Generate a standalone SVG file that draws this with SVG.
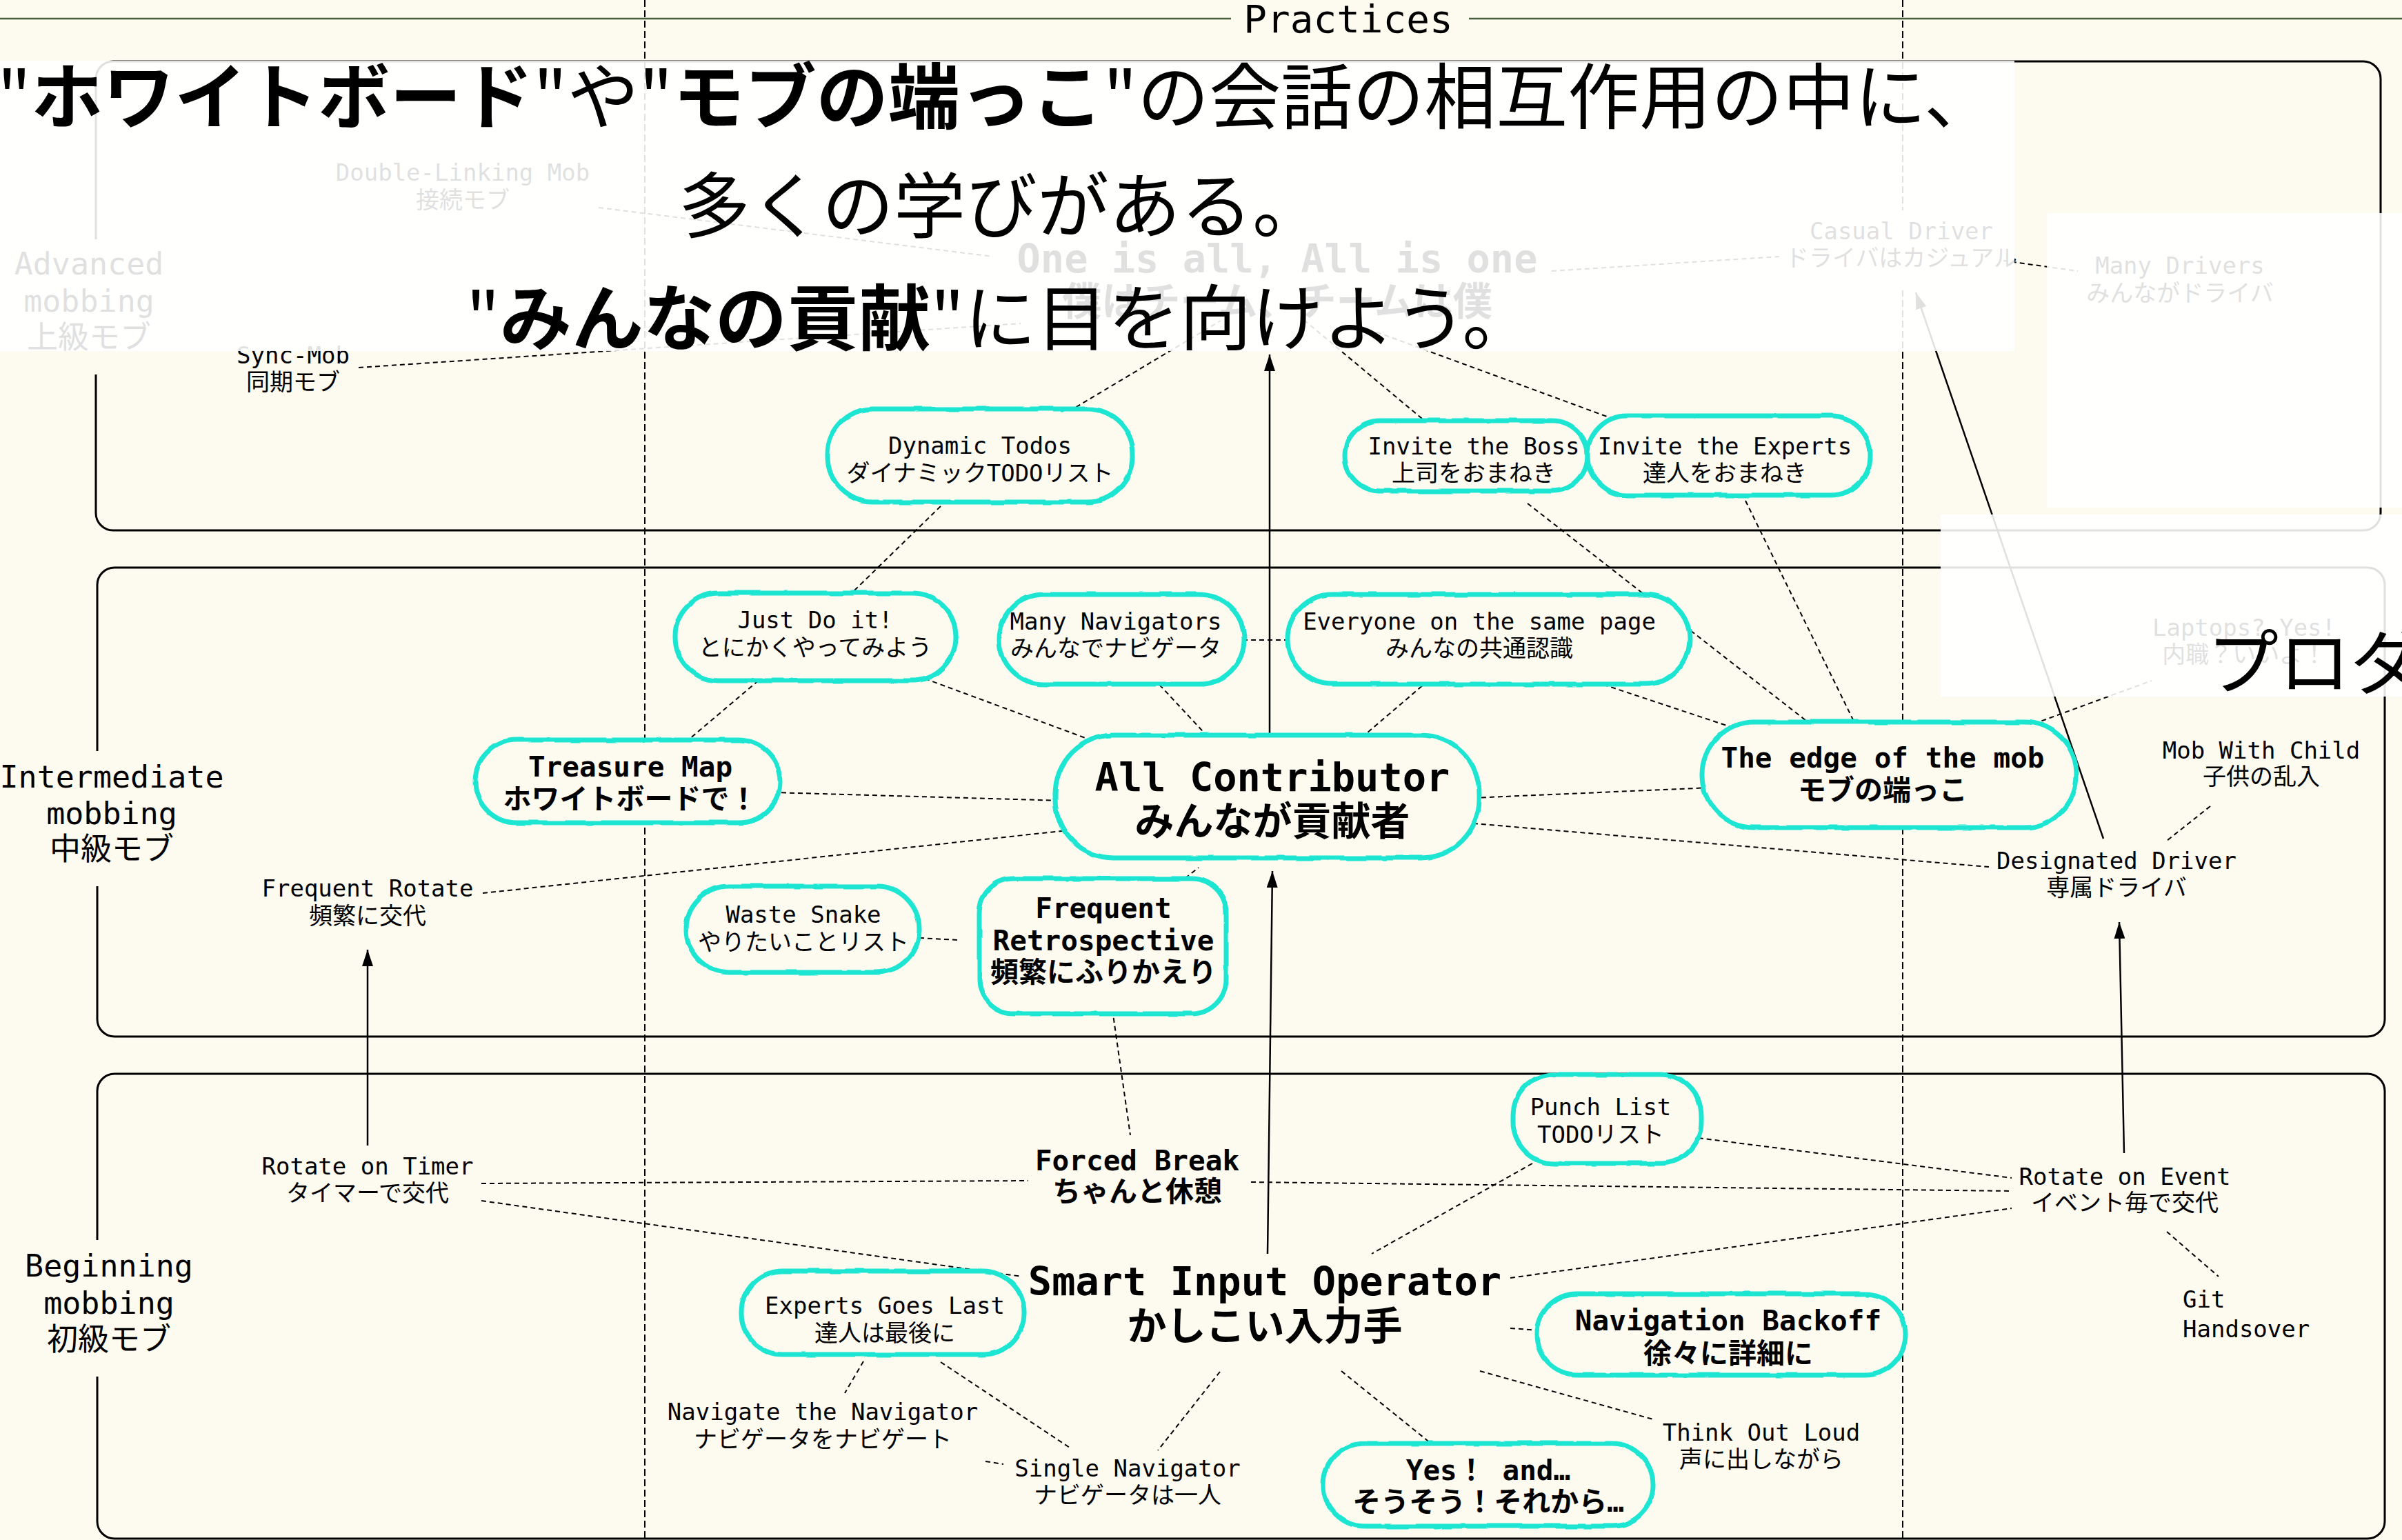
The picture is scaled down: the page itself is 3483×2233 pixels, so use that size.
<svg xmlns="http://www.w3.org/2000/svg" width="3483" height="2233" viewBox="0 0 3483 2233">
<style>
.t{font-family:"DejaVu Sans Mono","Noto Sans CJK JP",monospace;font-size:34px;text-anchor:middle;fill:#000}
.b{font-weight:bold;font-size:41px}
.bb{font-weight:bold;font-size:57px}
.lab{font-size:45px}
.node{fill:#fdfbf0;stroke:#1de6d2;stroke-width:7;filter:url(#wob)}
.lane{fill:none;stroke:#000;stroke-width:3}
.c{stroke:#000;stroke-width:2;stroke-dasharray:7 5;fill:none}
.a{stroke:#000;stroke-width:2.5;fill:none;marker-end:url(#arr)}
.vd{stroke:#000;stroke-width:2;stroke-dasharray:10 5}
.ov{fill:#fff;fill-opacity:0.88}
.big{font-family:"Noto Sans CJK JP","Noto Sans CJK SC",sans-serif;font-size:104px;fill:#000;text-anchor:middle}
</style>
<defs>
<marker id="arr" markerWidth="24" markerHeight="16" refX="24" refY="8" orient="auto" markerUnits="userSpaceOnUse"><path d="M0,0 L24,8 L0,16 z" fill="#000"/></marker>
<filter id="wob" x="-5%" y="-10%" width="110%" height="120%"><feTurbulence type="fractalNoise" baseFrequency="0.03" numOctaves="2" seed="3"/><feDisplacementMap in="SourceGraphic" scale="4" xChannelSelector="R" yChannelSelector="G"/></filter>
</defs>
<rect width="3483" height="2233" fill="#fdfbf0"/>

<g id="title">
<line x1="0" y1="27" x2="1785" y2="27" stroke="#4a5d3a" stroke-width="2.5"/>
<line x1="2130" y1="27" x2="3483" y2="27" stroke="#4a5d3a" stroke-width="2.5"/>
<text class="t" x="1955" y="47" style="font-size:56px">Practices</text>
</g>

<g id="lanes">
<rect class="lane" x="139" y="89" width="3313" height="680" rx="25"/>
<rect class="lane" x="141" y="823" width="3317" height="680" rx="25"/>
<rect class="lane" x="141" y="1557" width="3317" height="674" rx="25"/>
<rect x="120" y="347" width="40" height="196" fill="#fdfbf0"/>
<rect x="120" y="1089" width="40" height="196" fill="#fdfbf0"/>
<rect x="120" y="1798" width="40" height="198" fill="#fdfbf0"/>
<text class="t lab" x="129"><tspan x="129" y="398">Advanced</tspan><tspan x="129" y="452">mobbing</tspan><tspan x="129" y="505">上級モブ</tspan></text>
<text class="t lab" x="162"><tspan x="162" y="1142">Intermediate</tspan><tspan x="162" y="1195">mobbing</tspan><tspan x="162" y="1247">中級モブ</tspan></text>
<text class="t lab" x="158"><tspan x="158" y="1851">Beginning</tspan><tspan x="158" y="1905">mobbing</tspan><tspan x="158" y="1958">初級モブ</tspan></text>
</g>

<g id="columns">
<line class="vd" x1="935" y1="0" x2="935" y2="2233"/>
<line class="vd" x1="2759" y1="0" x2="2759" y2="2233"/>
</g>

<g id="connectors">
<line class="c" x1="868" y1="301" x2="1440" y2="372"/>
<line class="c" x1="520" y1="533" x2="1480" y2="469"/>
<line class="c" x1="2250" y1="393" x2="2580" y2="372"/>
<line class="c" x1="2905" y1="378" x2="3013" y2="393"/>
<line class="c" x1="1519" y1="615" x2="1770" y2="465"/>
<line class="c" x1="2062" y1="607" x2="1892" y2="465"/>
<line class="c" x1="2352" y1="612" x2="1992" y2="480"/>
<line class="c" x1="1364" y1="734" x2="1237" y2="858"/>
<line class="c" x1="2215" y1="730" x2="2646" y2="1066"/>
<line class="c" x1="2531" y1="726" x2="2698" y2="1066"/>
<line class="c" x1="2302" y1="985" x2="2546" y2="1066"/>
<line class="c" x1="2904" y1="1066" x2="3120" y2="987"/>
<line class="c" x1="1109" y1="979" x2="998" y2="1073"/>
<line class="c" x1="1341" y1="984" x2="1617" y2="1086"/>
<line class="c" x1="1673" y1="984" x2="1768" y2="1086"/>
<line class="c" x1="1790" y1="928" x2="1876" y2="928"/>
<line class="c" x1="2071" y1="987" x2="1955" y2="1086"/>
<line class="c" x1="1121" y1="1149" x2="1577" y2="1162"/>
<line class="c" x1="700" y1="1295" x2="1577" y2="1201"/>
<line class="c" x1="2112" y1="1158" x2="2481" y2="1142"/>
<line class="c" x1="2112" y1="1192" x2="2884" y2="1257"/>
<line class="c" x1="1333" y1="1360" x2="1390" y2="1363"/>
<line class="c" x1="1709" y1="1281" x2="1738" y2="1258"/>
<line class="c" x1="1613" y1="1464" x2="1639" y2="1646"/>
<line class="c" x1="3205" y1="1169" x2="3142" y2="1219"/>
<line class="c" x1="698" y1="1716" x2="1491" y2="1712"/>
<line class="c" x1="1814" y1="1714" x2="2917" y2="1727"/>
<line class="c" x1="698" y1="1741" x2="1482" y2="1851"/>
<line class="c" x1="2439" y1="1647" x2="2917" y2="1708"/>
<line class="c" x1="2222" y1="1687" x2="1989" y2="1818"/>
<line class="c" x1="2190" y1="1853" x2="2917" y2="1752"/>
<line class="c" x1="3142" y1="1786" x2="3217" y2="1851"/>
<line class="c" x1="2190" y1="1926" x2="2276" y2="1932"/>
<line class="c" x1="2146" y1="1988" x2="2397" y2="2058"/>
<line class="c" x1="1945" y1="1988" x2="2075" y2="2093"/>
<line class="c" x1="1769" y1="1989" x2="1679" y2="2103"/>
<line class="c" x1="1252" y1="1974" x2="1225" y2="2020"/>
<line class="c" x1="1364" y1="1975" x2="1554" y2="2101"/>
<line class="c" x1="1429" y1="2119" x2="1455" y2="2123"/>
<line class="a" x1="533" y1="1661" x2="533" y2="1377"/>
<line class="a" x1="1838" y1="1818" x2="1845" y2="1263"/>
<line class="a" x1="1841" y1="1066" x2="1841" y2="514"/>
<line class="a" x1="3080" y1="1672" x2="3073" y2="1337"/>
<line class="a" x1="3050" y1="1216" x2="2778" y2="424"/>
</g>

<g id="n-doublelink"><text class="t"><tspan x="671" y="262">Double-Linking Mob</tspan><tspan x="671" y="302">接続モブ</tspan></text></g>
<g id="n-oneisall"><text class="t bb"><tspan x="1852" y="395">One is all, All is one</tspan><tspan x="1852" y="457">僕はチーム、チームは僕</tspan></text></g>
<g id="n-syncmob"><text class="t"><tspan x="425" y="527">Sync-Mob</tspan><tspan x="425" y="566">同期モブ</tspan></text></g>
<g id="n-casual"><rect x="2610" y="305" width="295" height="116" fill="#fdfbf0"/><text class="t"><tspan x="2757" y="347">Casual Driver</tspan><tspan x="2757" y="386">ドライバはカジュアル</tspan></text></g>
<g id="n-manydrivers"><text class="t"><tspan x="3161" y="397">Many Drivers</tspan><tspan x="3161" y="437">みんながドライバ</tspan></text></g>
<g id="n-dyn"><rect class="node" x="1200" y="593" width="443" height="135" rx="66"/><text class="t"><tspan x="1421" y="658">Dynamic Todos</tspan><tspan x="1421" y="698">ダイナミックTODOリスト</tspan></text></g>
<g id="n-boss"><rect class="node" x="1950" y="610" width="352" height="102" rx="51"/><text class="t"><tspan x="2137" y="659">Invite the Boss</tspan><tspan x="2137" y="698">上司をおまねき</tspan></text></g>
<g id="n-experts"><rect class="node" x="2302" y="603" width="410" height="115" rx="57"/><text class="t"><tspan x="2501" y="659">Invite the Experts</tspan><tspan x="2501" y="698">達人をおまねき</tspan></text></g>

<g id="n-justdo"><rect class="node" x="979" y="860" width="407" height="127" rx="63"/><text class="t"><tspan x="1182" y="911">Just Do it!</tspan><tspan x="1182" y="951">とにかくやってみよう</tspan></text></g>
<g id="n-manynav"><rect class="node" x="1449" y="862" width="355" height="130" rx="65"/><text class="t"><tspan x="1618" y="913">Many Navigators</tspan><tspan x="1618" y="952">みんなでナビゲータ</tspan></text></g>
<g id="n-everyone"><rect class="node" x="1867" y="862" width="583" height="130" rx="65"/><text class="t"><tspan x="2145" y="913">Everyone on the same page</tspan><tspan x="2145" y="952">みんなの共通認識</tspan></text></g>
<g id="n-treasure"><rect class="node" x="689" y="1073" width="442" height="120" rx="60"/><text class="t b"><tspan x="914" y="1126">Treasure Map</tspan><tspan x="914" y="1173">ホワイトボードで！</tspan></text></g>
<g id="n-allc"><rect class="node" x="1530" y="1066" width="615" height="178" rx="85"/><text class="t bb"><tspan x="1845" y="1147">All Contributor</tspan><tspan x="1845" y="1211">みんなが貢献者</tspan></text></g>
<g id="n-edge"><rect class="node" x="2468" y="1047" width="543" height="153" rx="76"/><text class="t b"><tspan x="2730" y="1113">The edge of the mob</tspan><tspan x="2730" y="1160">モブの端っこ</tspan></text></g>
<g id="n-laptops"><text class="t"><tspan x="3254" y="922">Laptops? Yes!</tspan><tspan x="3254" y="961">内職？いいよ！</tspan></text></g>
<g id="n-mobchild"><text class="t"><tspan x="3279" y="1100">Mob With Child</tspan><tspan x="3279" y="1138">子供の乱入</tspan></text></g>
<g id="n-designated"><text class="t"><tspan x="3069" y="1260">Designated Driver</tspan><tspan x="3069" y="1299">専属ドライバ</tspan></text></g>
<g id="n-freqrotate"><text class="t"><tspan x="533" y="1300">Frequent Rotate</tspan><tspan x="533" y="1340">頻繁に交代</tspan></text></g>
<g id="n-waste"><rect class="node" x="995" y="1285" width="338" height="125" rx="62"/><text class="t"><tspan x="1165" y="1338">Waste Snake</tspan><tspan x="1165" y="1378">やりたいことリスト</tspan></text></g>
<g id="n-retro"><rect class="node" x="1420" y="1274" width="358" height="196" rx="50"/><text class="t b"><tspan x="1600" y="1331">Frequent</tspan><tspan x="1600" y="1378">Retrospective</tspan><tspan x="1600" y="1424">頻繁にふりかえり</tspan></text></g>

<g id="n-rotatetimer"><text class="t"><tspan x="533" y="1703">Rotate on Timer</tspan><tspan x="533" y="1742">タイマーで交代</tspan></text></g>
<g id="n-forcedbreak"><text class="t b"><tspan x="1649" y="1697">Forced Break</tspan><tspan x="1649" y="1742">ちゃんと休憩</tspan></text></g>
<g id="n-punch"><rect class="node" x="2194" y="1558" width="273" height="129" rx="60"/><text class="t"><tspan x="2321" y="1617">Punch List</tspan><tspan x="2321" y="1657">TODOリスト</tspan></text></g>
<g id="n-rotateevent"><text class="t"><tspan x="3081" y="1718">Rotate on Event</tspan><tspan x="3081" y="1756">イベント毎で交代</tspan></text></g>
<g id="n-smart"><text class="t bb"><tspan x="1834" y="1878">Smart Input Operator</tspan><tspan x="1834" y="1943">かしこい入力手</tspan></text></g>
<g id="n-expertslast"><rect class="node" x="1075" y="1843" width="410" height="121" rx="60"/><text class="t"><tspan x="1283" y="1905">Experts Goes Last</tspan><tspan x="1283" y="1945">達人は最後に</tspan></text></g>
<g id="n-navback"><rect class="node" x="2228" y="1876" width="535" height="118" rx="59"/><text class="t b"><tspan x="2506" y="1929">Navigation Backoff</tspan><tspan x="2506" y="1977">徐々に詳細に</tspan></text></g>
<g id="n-git"><text class="t" style="text-anchor:start"><tspan x="3165" y="1896">Git</tspan><tspan x="3165" y="1939">Handsover</tspan></text></g>
<g id="n-navnav"><text class="t"><tspan x="1193" y="2059">Navigate the Navigator</tspan><tspan x="1193" y="2099">ナビゲータをナビゲート</tspan></text></g>
<g id="n-think"><text class="t"><tspan x="2554" y="2089">Think Out Loud</tspan><tspan x="2554" y="2128">声に出しながら</tspan></text></g>
<g id="n-single"><text class="t"><tspan x="1635" y="2141">Single Navigator</tspan><tspan x="1635" y="2180">ナビゲータは一人</tspan></text></g>
<g id="n-yesand"><rect class="node" x="1919" y="2093" width="478" height="120" rx="60"/><text class="t b"><tspan x="2158" y="2146">Yes！ and…</tspan><tspan x="2158" y="2192">そうそう！それから…</tspan></text></g>

<g id="overlay">
<rect class="ov" x="0" y="88" width="2921" height="421"/>
<rect class="ov" x="2968" y="309" width="515" height="427"/>
<rect class="ov" x="2814" y="746" width="669" height="264"/>
<text class="big"><tspan x="1445" y="179">"<tspan font-weight="bold">ホワイトボード</tspan>"や"<tspan font-weight="bold">モブの端っこ</tspan>"の会話の相互作用の中に、</tspan></text>
<text class="big" x="1452" y="337">多くの学びがある。</text>
<text class="big" x="1450" y="500">"<tspan font-weight="bold">みんなの貢献</tspan>"に目を向けよう。</text>
<text class="big" x="3200" y="999" style="text-anchor:start">プロダ</text>
</g>
</svg>
